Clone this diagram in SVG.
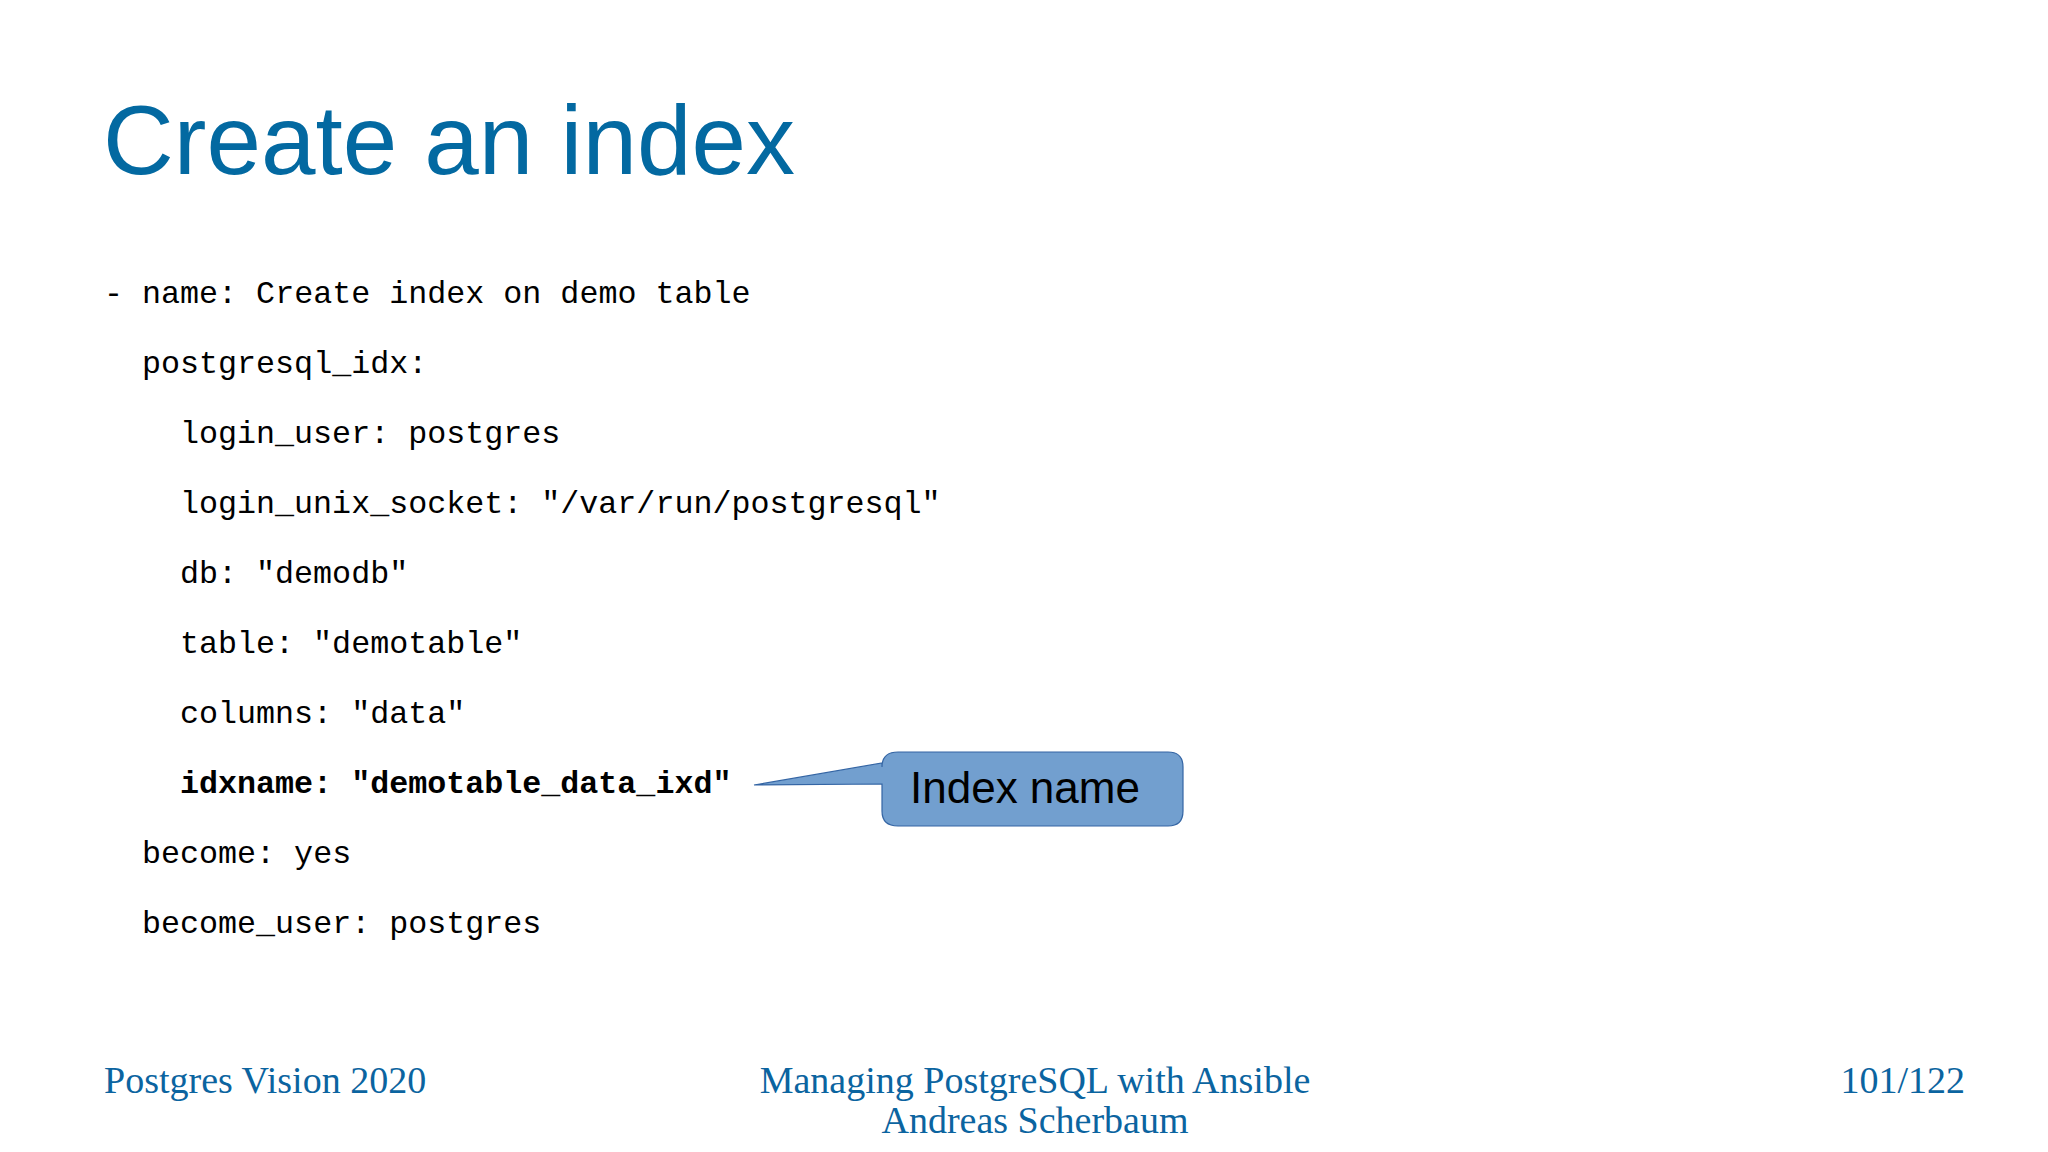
<svg xmlns="http://www.w3.org/2000/svg" width="2048" height="1152" viewBox="0 0 2048 1152">
<style>
.code{font-family:"Liberation Mono","DejaVu Sans Mono",monospace;font-size:31.7px;fill:#000;white-space:pre}
.foot{font-family:"Liberation Serif",serif;font-size:38px;fill:#0b64a0}
</style>
<rect width="2048" height="1152" fill="#fff"/>
<text x="103" y="174" font-family="Liberation Sans, sans-serif" font-size="98" fill="#0369a1">Create an index</text>
<g id="code">
<text class="code" x="104" y="303">- name: Create index on demo table</text>
<text class="code" x="142" y="373">postgresql_idx:</text>
<text class="code" x="180" y="443">login_user: postgres</text>
<text class="code" x="180" y="513">login_unix_socket: "/var/run/postgresql"</text>
<text class="code" x="180" y="583">db: "demodb"</text>
<text class="code" x="180" y="653">table: "demotable"</text>
<text class="code" x="180" y="723">columns: "data"</text>
<text class="code" x="180" y="793" font-weight="bold">idxname: "demotable_data_ixd"</text>
<text class="code" x="142" y="863">become: yes</text>
<text class="code" x="142" y="933">become_user: postgres</text>
</g>
<g id="callout">
<path d="M898,752 H1168 Q1183,752 1183,767 V811 Q1183,826 1168,826 H898 Q882,826 882,811 V784 L754,785 L882,763 V767 Q882,752 898,752 Z" fill="#729fcf" stroke="#3465a4" stroke-width="1.2"/>
<text x="910" y="803" font-family="Liberation Sans, sans-serif" font-size="44" fill="#000">Index name</text>
</g>
<g id="footer">
<text class="foot" x="104" y="1093">Postgres Vision 2020</text>
<text class="foot" x="1035" y="1093" text-anchor="middle">Managing PostgreSQL with Ansible</text>
<text class="foot" x="1035" y="1133" text-anchor="middle">Andreas Scherbaum</text>
<text class="foot" x="1965" y="1093" text-anchor="end">101/122</text>
</g>
</svg>
